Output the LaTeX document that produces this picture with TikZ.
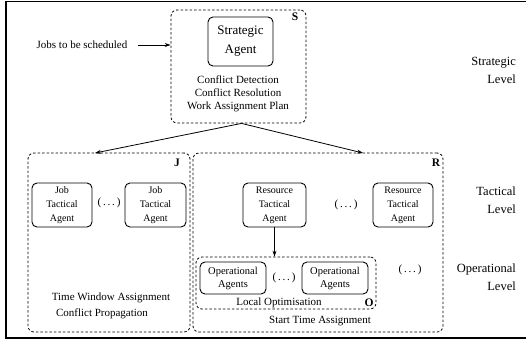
\documentclass[tikz,border=0pt]{standalone}
\usepackage{fontspec}
\setmainfont{Liberation Serif}
\usetikzlibrary{arrows.meta}
\begin{document}
\begin{tikzpicture}[x=1pt,y=-1pt,
  agent/.style={draw, line width=0.9pt, rounded corners=5pt, align=center, inner sep=0pt, font=\fontsize{10}{14}\selectfont},
  group/.style={draw, line width=0.8pt, dash pattern=on 2.5pt off 2pt, rounded corners=6pt, inner sep=0pt},
  txt/.style={inner sep=0pt, font=\fontsize{11}{13}\selectfont, align=center},
  lvl/.style={inner sep=0pt, anchor=east, align=right, font=\fontsize{12.5}{18}\selectfont},
  tag/.style={inner sep=0pt, font=\fontsize{11.5}{12}\selectfont\bfseries},
  arr/.style={line width=0.8pt, -{Stealth[length=6pt,width=4pt]}}
]
\useasboundingbox (0,0) rectangle (526,341);
% outer frame
\draw[line width=1.2pt] (527,1.5) -- (6,1.5) -- (6,338) -- (527,338);

% strategic group
\node[group, minimum width=135pt, minimum height=113pt] (Sg) at (238.5,66.5) {};
\node[agent, minimum width=65pt, minimum height=49pt, font=\fontsize{13}{19}\selectfont] (SA) at (240.5,41.5) {Strategic\\Agent};
\node[txt] (Stxt) at (238,94) {Conflict Detection\\Conflict Resolution\\Work Assignment Plan};
\node[tag] (Stag) at (295,17) {S};
\node[txt] (jobs) at (82,45) {Jobs to be scheduled};
\draw[arr] (jobs.east) ++(10,0) coordinate (jstart) (jstart) -- (jstart -| Sg.west);

% job tactical group
\node[group, minimum width=162pt, minimum height=179pt] (Jg) at (109,242.5) {};
\node[tag] (Jtag) at (177,163) {J};
\node[agent, minimum width=60pt, minimum height=44pt] (jb1) at (62,205) {Job\\Tactical\\Agent};
\node[agent, minimum width=61pt, minimum height=44pt] (jb2) at (155.5,205) {Job\\Tactical\\Agent};
\node[txt] (jdots) at (109,203) {(\,.\,.\,.\,)};
\node[txt] (tw) at (111,298) {Time Window Assignment};
\node[txt] (cp) at (102,314) {Conflict Propagation};

% resource group
\node[group, minimum width=250pt, minimum height=179pt] (Rg) at (318,242.5) {};
\node[tag] (Rtag) at (436,163) {R};
\node[agent, minimum width=63pt, minimum height=44pt] (rt1) at (274.5,205) {Resource\\Tactical\\Agent};
\node[agent, minimum width=60pt, minimum height=44pt] (rt2) at (403,205) {Resource\\Tactical\\Agent};
\node[txt] (rdots) at (346,205) {(\,.\,.\,.\,)};

% operational group
\node[group, minimum width=180pt, minimum height=52pt] (Og) at (286,283) {};
\node[agent, minimum width=66pt, minimum height=32pt, font=\fontsize{10.5}{13}\selectfont] (op1) at (233,278) {Operational\\Agents};
\node[agent, minimum width=66pt, minimum height=32pt, font=\fontsize{10.5}{13}\selectfont] (op2) at (335,278) {Operational\\Agents};
\node[txt] (odots) at (284,278) {(\,.\,.\,.\,)};
\node[txt] (lo) at (279,303) {Local Optimisation};
\node[tag] (Otag) at (369,303) {O};
\node[txt] (st) at (320,321) {Start Time Assignment};
\node[txt] (odots2) at (410,270) {(\,.\,.\,.\,)};
\draw[arr] (rt1.south) -- (rt1.south |- Og.north);

% arrows from strategic
\coordinate (jt) at (95,153);
\coordinate (rtop) at (363,153);
\draw[arr] (Sg.south) ++(3,0) coordinate (sb) (sb) -- (jt);
\draw[arr] (sb) -- (rtop);

% levels
\node[lvl] (l1) at (516,70) {Strategic\\Level};
\node[lvl] (l2) at (516,200) {Tactical\\Level};
\node[lvl] (l3) at (516,277) {Operational\\Level};
\end{tikzpicture}
\end{document}
